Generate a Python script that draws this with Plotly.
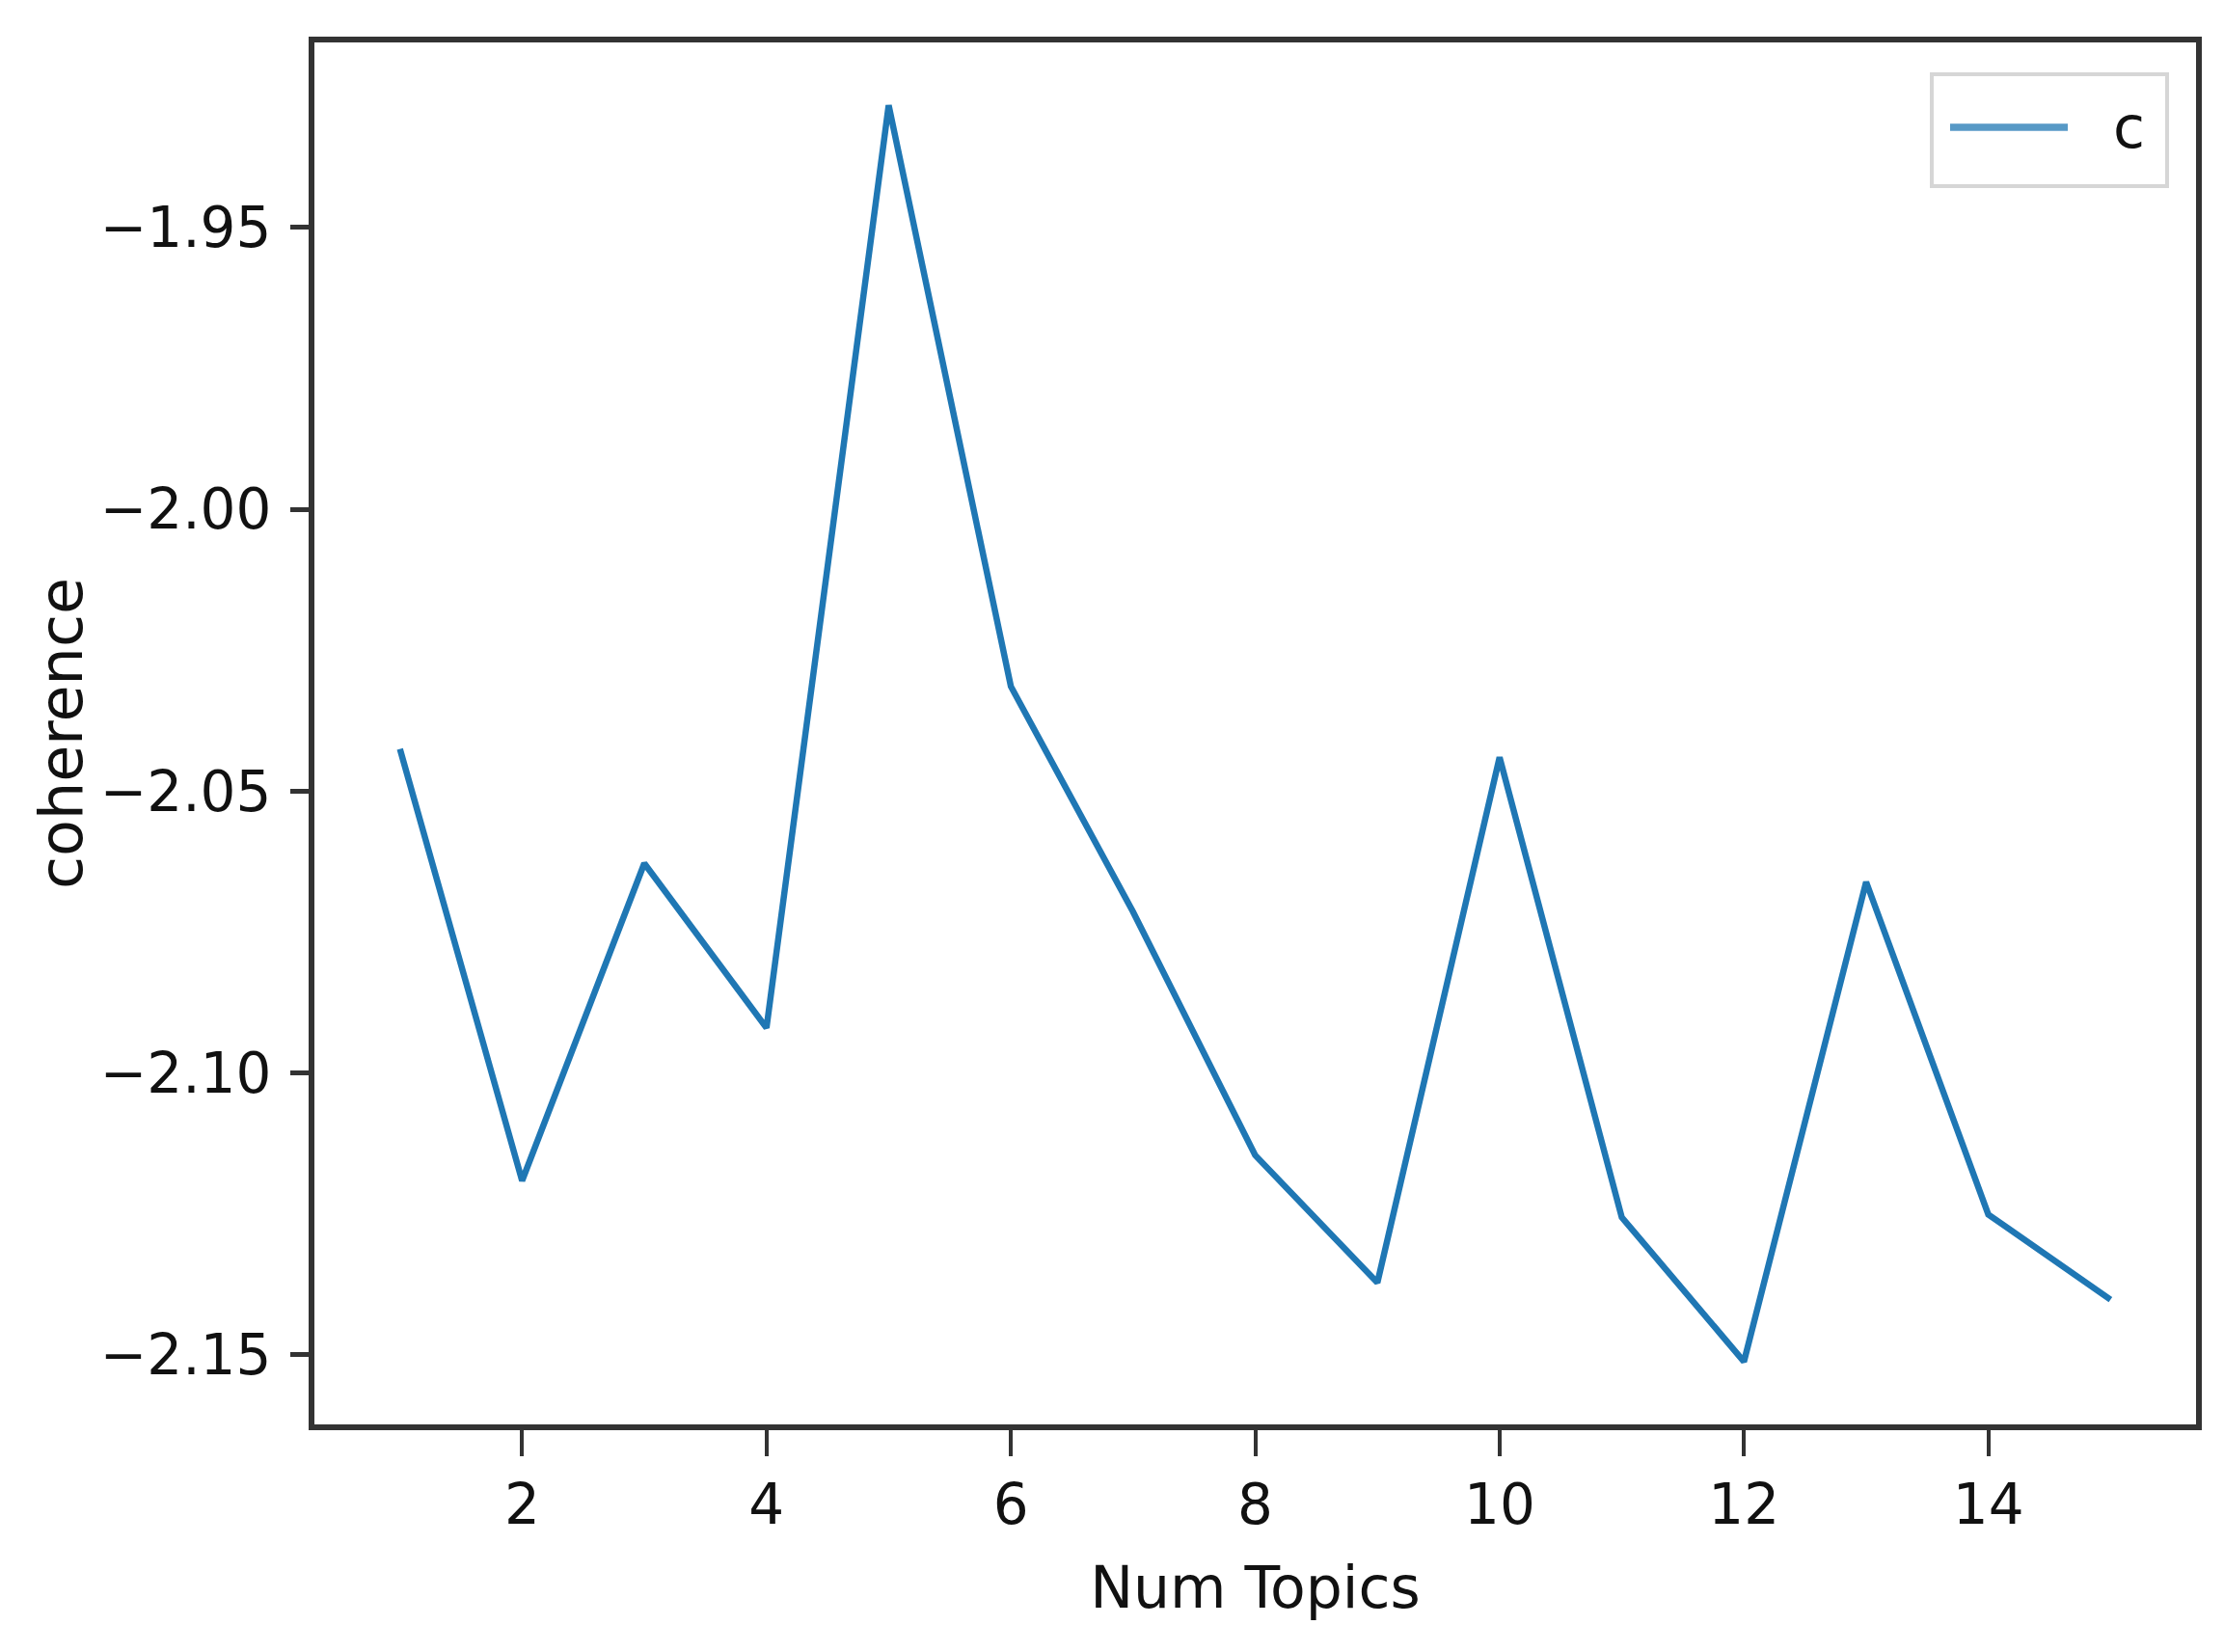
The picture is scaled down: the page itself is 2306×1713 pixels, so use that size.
import plotly.graph_objects as go

num_topics = [1, 2, 3, 4, 5, 6, 7, 8, 9, 10, 11, 12, 13, 14, 15]
coherence = [-2.0425, -2.1191, -2.0628, -2.0920, -1.9283, -2.0314, -2.0714,
             -2.1146, -2.1372, -2.0440, -2.1256, -2.1512, -2.0661, -2.1251, -2.1402]
x_ticks = [2, 4, 6, 8, 10, 12, 14]
y_ticks = [-1.95, -2.00, -2.05, -2.10, -2.15]
y_tick_labels = ["\u22121.95", "\u22122.00", "\u22122.05", "\u22122.10", "\u22122.15"]
series_name = "c"

W, H = 2306, 1713
OFF = 8  # page body margin
PL, PR, PT, PB = 326, 2277, 44, 1477  # plot area in page pixels
L, R, T, B = PL - OFF, W + OFF - PR, PT - OFF, H + OFF - PB
FONT = "DejaVu Sans"
TICK_FS = 58
LINE_COLOR = "#1f77b4"
AX_COLOR = "#333333"
TXT = "#111111"

fig = go.Figure()
fig.add_trace(go.Scatter(x=num_topics, y=coherence, mode="lines", name=series_name,
                         line=dict(color=LINE_COLOR, width=6.5), showlegend=False))

xmin, xmax = min(num_topics), max(num_topics)
ymin, ymax = min(coherence), max(coherence)
xm = (xmax - xmin) * 0.05
ym = (ymax - ymin) * 0.05

axis_common = dict(showline=True, linecolor=AX_COLOR, linewidth=6, mirror=True,
                   showgrid=False, zeroline=False, ticks="outside",
                   tickcolor=AX_COLOR,
                   tickfont=dict(family=FONT, size=TICK_FS, color=TXT))

fig.update_xaxes(range=[xmin - xm, xmax + xm], tickvals=x_ticks, ticklen=27, tickwidth=3.5,
                 title=dict(text="Num Topics", font=dict(family=FONT, size=60, color=TXT),
                            standoff=34),
                 **axis_common)
fig.update_yaxes(range=[ymin - ym, ymax + ym], tickvals=y_ticks, ticktext=y_tick_labels,
                 ticklen=19, tickwidth=4.5, ticklabelstandoff=8,
                 title=dict(text="coherence", font=dict(family=FONT, size=62, color=TXT),
                            standoff=0),
                 **axis_common)

# legend drawn as a box, a line sample and a label (positions in page pixels)
pw, ph = PR - PL, PB - PT
def px(xp):
    return (xp - PL) / pw
def py(yp):
    return 1 - (yp - PT) / ph

fig.add_shape(type="rect", xref="paper", yref="paper",
              x0=px(2003), x1=px(2247), y0=py(193), y1=py(77),
              line=dict(color="#d6d6d6", width=4), fillcolor="white", layer="above")
fig.add_shape(type="line", xref="paper", yref="paper",
              x0=px(2022), x1=px(2144), y0=py(132), y1=py(132),
              line=dict(color=LINE_COLOR, width=7.5), opacity=0.75, layer="above")
fig.add_annotation(xref="paper", yref="paper", x=px(2207), y=py(132),
                   text=series_name, showarrow=False, xanchor="center", yanchor="middle",
                   font=dict(family=FONT, size=60, color=TXT))

fig.update_layout(width=W, height=H, margin=dict(l=L, r=R, t=T, b=B, autoexpand=False),
                  plot_bgcolor="white", paper_bgcolor="white")

fig.write_html("out.html")
